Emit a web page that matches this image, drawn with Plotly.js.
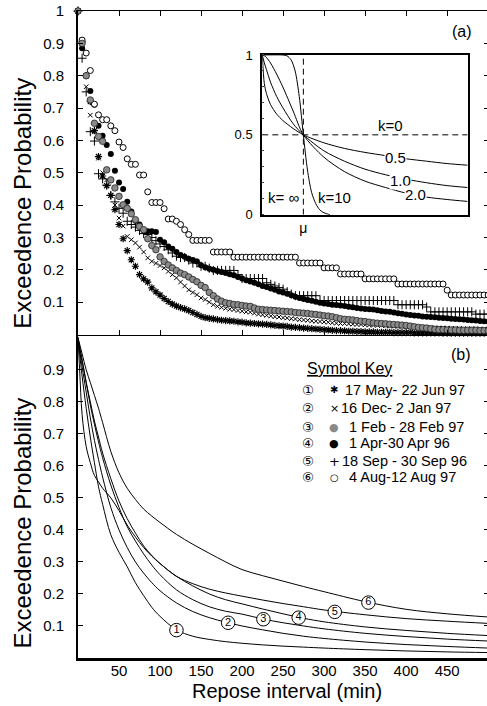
<!DOCTYPE html>
<html><head><meta charset="utf-8">
<script src="https://cdn.plot.ly/plotly-3.0.1.min.js"></script>
<style>html,body{margin:0;padding:0;overflow:hidden;background:#fff}#chart{width:489px;height:706px}</style>
</head><body><div id="chart"></div><script>
// ---------- DATA ----------
const repose = [0,5,10,15,20,25,30,35,40,45,50,55,60,65,70,75,80,85,90,95,100,105,110,115,120,125,130,135,140,145,150,155,160,165,170,175,180,185,190,195,200,205,210,215,220,225,230,235,240,245,250,255,260,265,270,275,280,285,290,295,300,305,310,315,320,325,330,335,340,345,350,355,360,365,370,375,380,385,390,395,400,405,410,415,420,425,430,435,440,445,450,455,460,465,470,475,480,485,490,495,500];

const may97 = [1.0,0.905,0.80,0.72,0.63,0.55,0.49,0.46,0.43,0.386,
 0.34,0.296,0.259,0.231,0.211,0.185,0.172,0.162,0.144,0.132,
 0.122,0.111,0.102,0.094,0.088,0.083,0.079,0.074,0.068,0.062,
 0.056,0.052,0.05,0.048,0.046,0.044,0.043,0.042,0.041,0.039,
 0.038,0.036,0.035,0.034,0.033,0.032,0.031,0.03,0.028,0.027,
 0.026,0.025,0.023,0.022,0.021,0.02,0.019,0.018,0.017,0.016,
 0.015,0.014,0.013,0.012,0.012,0.011,0.01,0.01,0.009,0.009,
 0.008,0.008,0.008,0.007,0.007,0.007,0.007,0.006,0.006,0.006,
 0.006,0.006,0.005,0.005,0.005,0.005,0.005,0.005,0.005,0.004,
 0.004,0.004,0.004,0.004,0.004,0.004,0.004,0.004,0.004,0.004,
 0.004];
const dec97 = [1.0,0.91,0.766,0.678,0.626,0.545,0.50,0.478,0.43,0.40,
 0.36,0.335,0.303,0.293,0.283,0.27,0.255,0.237,0.226,0.22,
 0.213,0.206,0.195,0.185,0.175,0.162,0.15,0.138,0.13,0.123,
 0.113,0.108,0.1,0.092,0.087,0.084,0.081,0.078,0.077,0.074,
 0.072,0.07,0.069,0.066,0.063,0.061,0.059,0.057,0.055,0.054,
 0.052,0.051,0.049,0.048,0.046,0.045,0.044,0.042,0.041,0.04,
 0.039,0.038,0.036,0.035,0.034,0.034,0.033,0.032,0.031,0.031,
 0.03,0.029,0.029,0.028,0.028,0.027,0.026,0.026,0.025,0.025,
 0.024,0.024,0.023,0.023,0.022,0.022,0.021,0.021,0.02,0.02,
 0.02,0.019,0.019,0.019,0.018,0.018,0.018,0.018,0.017,0.017,
 0.017];
const feb97 = [1.0,0.90,0.80,0.725,0.653,0.612,0.597,0.509,0.478,0.453,
 0.427,0.401,0.39,0.373,0.355,0.334,0.324,0.296,0.275,0.262,
 0.24,0.226,0.215,0.206,0.198,0.19,0.185,0.178,0.17,0.163,
 0.152,0.145,0.13,0.12,0.11,0.103,0.098,0.096,0.093,0.092,
 0.09,0.088,0.087,0.082,0.078,0.077,0.076,0.075,0.074,0.073,
 0.072,0.071,0.07,0.068,0.067,0.066,0.065,0.063,0.062,0.06,
 0.058,0.057,0.055,0.052,0.049,0.047,0.046,0.045,0.043,0.041,
 0.04,0.038,0.036,0.035,0.034,0.033,0.032,0.031,0.03,0.029,
 0.028,0.026,0.024,0.022,0.021,0.02,0.018,0.016,0.015,0.015,
 0.014,0.014,0.014,0.013,0.013,0.013,0.013,0.013,0.012,0.012,
 0.012];
const apr96 = [1.0,0.885,0.80,0.753,0.71,0.645,0.614,0.586,0.558,0.506,
 0.47,0.45,0.41,0.38,0.352,0.34,0.322,0.319,0.319,0.317,
 0.293,0.285,0.272,0.265,0.255,0.246,0.24,0.234,0.23,0.226,
 0.214,0.208,0.203,0.2,0.196,0.193,0.19,0.186,0.183,0.178,
 0.173,0.168,0.164,0.16,0.155,0.15,0.147,0.142,0.138,0.133,
 0.13,0.126,0.121,0.117,0.113,0.11,0.107,0.104,0.101,0.098,
 0.096,0.094,0.092,0.091,0.09,0.088,0.086,0.084,0.082,0.08,
 0.079,0.078,0.077,0.075,0.073,0.071,0.07,0.068,0.066,0.064,
 0.062,0.06,0.059,0.058,0.056,0.055,0.054,0.053,0.052,0.051,
 0.05,0.049,0.048,0.047,0.046,0.045,0.044,0.043,0.042,0.041,
 0.04];
const sep96 = [1.0,0.854,0.75,0.627,0.598,0.497,0.481,0.462,0.43,0.41,
 0.39,0.375,0.35,0.34,0.332,0.322,0.312,0.309,0.3,0.29,
 0.28,0.272,0.262,0.252,0.242,0.238,0.238,0.23,0.221,0.221,
 0.211,0.211,0.205,0.198,0.198,0.198,0.198,0.198,0.198,0.185,
 0.173,0.173,0.173,0.173,0.173,0.173,0.16,0.155,0.15,0.145,
 0.14,0.132,0.125,0.12,0.12,0.12,0.12,0.12,0.12,0.105,
 0.105,0.105,0.105,0.105,0.105,0.105,0.105,0.105,0.105,0.105,
 0.105,0.105,0.105,0.105,0.105,0.105,0.105,0.105,0.092,0.092,
 0.092,0.092,0.092,0.092,0.092,0.085,0.07,0.07,0.07,0.07,
 0.07,0.07,0.07,0.07,0.07,0.07,0.07,0.063,0.063,0.063,
 0.063];
const aug97 = [1.0,0.91,0.87,0.816,0.712,0.679,0.664,0.664,0.645,0.63,
 0.595,0.578,0.543,0.526,0.526,0.493,0.493,0.441,0.408,0.408,
 0.408,0.389,0.357,0.357,0.35,0.34,0.324,0.309,0.291,0.291,
 0.291,0.291,0.291,0.255,0.255,0.255,0.255,0.255,0.239,0.239,
 0.239,0.239,0.239,0.239,0.239,0.239,0.239,0.239,0.239,0.239,
 0.239,0.239,0.239,0.239,0.221,0.221,0.221,0.221,0.221,0.221,
 0.206,0.206,0.206,0.206,0.187,0.187,0.187,0.187,0.187,0.187,
 0.172,0.172,0.172,0.172,0.172,0.172,0.172,0.172,0.156,0.156,
 0.156,0.156,0.156,0.156,0.156,0.156,0.156,0.156,0.156,0.156,
 0.137,0.122,0.122,0.122,0.122,0.122,0.122,0.122,0.122,0.122,
 0.122];

// fitted curves, panel (b)
const fitX = [0,2,5,10,15,20,25,30,40,50,60,70,80,90,100,120,140,160,180,200,225,250,275,300,350,400,450,500];
const fit1 = [1,0.95,0.88,0.78,0.69,0.61,0.535,0.48,0.385,0.33,0.285,0.235,0.195,0.158,0.13,0.088,0.068,0.058,0.051,0.046,0.041,0.037,0.034,0.031,0.026,0.022,0.019,0.017];
const fit2 = [1,0.96,0.91,0.83,0.75,0.68,0.62,0.565,0.47,0.4,0.345,0.3,0.265,0.235,0.21,0.172,0.145,0.126,0.112,0.1,0.088,0.077,0.068,0.061,0.05,0.042,0.036,0.031];
const fit3 = [1,0.97,0.93,0.86,0.79,0.73,0.675,0.625,0.54,0.47,0.41,0.365,0.325,0.29,0.26,0.213,0.182,0.16,0.146,0.137,0.122,0.11,0.1,0.091,0.077,0.067,0.059,0.053];
const fit4 = [1,0.97,0.93,0.86,0.8,0.74,0.69,0.64,0.56,0.49,0.435,0.39,0.35,0.32,0.295,0.255,0.225,0.2,0.182,0.169,0.153,0.138,0.124,0.113,0.097,0.086,0.077,0.07];
const fit5 = [1,0.9,0.76,0.66,0.61,0.57,0.55,0.53,0.5,0.46,0.415,0.378,0.345,0.318,0.295,0.255,0.232,0.215,0.203,0.193,0.181,0.17,0.16,0.15,0.135,0.123,0.115,0.108];
const fit6 = [1,0.98,0.95,0.9,0.86,0.82,0.78,0.735,0.645,0.578,0.53,0.495,0.465,0.443,0.423,0.386,0.355,0.327,0.3,0.276,0.257,0.24,0.223,0.207,0.176,0.152,0.138,0.128];
const fitLabelX = [120,183,226,269,313,354];
const fitLabelY = [0.087,0.11,0.121,0.126,0.144,0.173];
const fitLabelText = ['1','2','3','4','5','6'];

// inset (x in units of mu)
const insetX = [0,0.05,0.1,0.2,0.35,0.5,0.75,1,1.5,2,2.5,3,3.5,4,4.5,5];
const kHalf = [1,0.82,0.76,0.69,0.63,0.59,0.54,0.5,0.45,0.415,0.39,0.37,0.35,0.335,0.32,0.31];
const kOne  = [1,0.95,0.91,0.83,0.74,0.67,0.57,0.5,0.40,0.335,0.285,0.25,0.222,0.2,0.182,0.17];
const kTwo  = [1,0.995,0.985,0.95,0.88,0.8,0.65,0.5,0.36,0.27,0.21,0.17,0.135,0.11,0.095,0.083];
const kTenX = [0,0.5,0.6,0.7,0.8,0.9,1.0,1.1,1.2,1.3,1.4,1.5,1.65];
const kTen  = [1,1,0.995,0.97,0.9,0.74,0.5,0.28,0.14,0.07,0.03,0.012,0];
const kZeroX = [0,5], kZeroY = [0.5,0.5];
const kInfX = [1,1], kInfY = [0,1];

const xTicks = [50,100,150,200,250,300,350,400,450];
const yTicksA = [0.1,0.2,0.3,0.4,0.5,0.6,0.7,0.8,0.9,1];
const yTicksAText = ['0.1','0.2','0.3','0.4','0.5','0.6','0.7','0.8','0.9','1'];
const yTicksB = [0.1,0.2,0.3,0.4,0.5,0.6,0.7,0.8,0.9];
const keyNames = ['17 May- 22 Jun 97','16 Dec- 2 Jan 97','1 Feb - 28 Feb 97','1 Apr-30 Apr 96','18 Sep - 30 Sep 96','4 Aug-12 Aug 97'];

// ---------- PLOT ----------
const FONT = 'Liberation Sans, Arial, Helvetica, sans-serif';
const traces = [];
function pts(y, marker){
  traces.push({x: repose, y: y, xaxis:'x2', yaxis:'y2', type:'scatter', mode:'markers', cliponaxis:false, marker: marker, hoverinfo:'skip'});
}
pts(may97, {symbol:'asterisk-open', size:6, color:'black', line:{color:'black', width:1.2}});
pts(dec97, {symbol:'x-thin-open', size:4.5, color:'black', line:{color:'black', width:1}});
pts(apr96, {symbol:'circle', size:6, color:'black', line:{width:0}});
pts(sep96, {symbol:'cross-thin-open', size:6.5, color:'black', line:{color:'black', width:1}});
pts(aug97, {symbol:'circle', size:6, color:'white', line:{color:'black', width:1}});
pts(feb97, {symbol:'circle', size:6.5, color:'#8a8a8a', line:{color:'#222', width:0.8}});

[fit1,fit2,fit3,fit4,fit5,fit6].forEach(f => traces.push({x: fitX, y: f, xaxis:'x', yaxis:'y', type:'scatter', mode:'lines', line:{color:'black', width:1, shape:'spline', smoothing:1}, hoverinfo:'skip'}));
traces.push({x: fitLabelX, y: fitLabelY, xaxis:'x', yaxis:'y', type:'scatter', mode:'markers+text', text: fitLabelText, textposition:'middle center', textfont:{family:FONT, size:11, color:'black'}, marker:{symbol:'circle', size:13.5, color:'white', line:{color:'black', width:1}}, cliponaxis:false, hoverinfo:'skip'});

[kHalf,kOne,kTwo].forEach(k => traces.push({x: insetX, y: k, xaxis:'x4', yaxis:'y4', type:'scatter', mode:'lines', line:{color:'black', width:1, shape:'spline', smoothing:0.8}, hoverinfo:'skip'}));
traces.push({x: kTenX, y: kTen, xaxis:'x4', yaxis:'y4', type:'scatter', mode:'lines', line:{color:'black', width:1, shape:'spline', smoothing:0.8}, hoverinfo:'skip'});
traces.push({x: kZeroX, y: kZeroY, xaxis:'x4', yaxis:'y4', type:'scatter', mode:'lines', line:{color:'black', width:1, dash:'6px,4px'}, hoverinfo:'skip'});
traces.push({x: kInfX, y: kInfY, xaxis:'x4', yaxis:'y4', type:'scatter', mode:'lines', line:{color:'black', width:1, dash:'6px,4px'}, hoverinfo:'skip'});

const xr = [0, 501];
const base = {showgrid:false, zeroline:false, linecolor:'black', tickcolor:'black', color:'black'};
const ann = [];
function A(o){ ann.push(Object.assign({showarrow:false, font:{family:FONT, size:15, color:'black'}}, o)); }

A({text:'Exceedence Probability', textangle:-90, xref:'paper', yref:'paper', x:-0.135, y:0.703, xanchor:'center', yanchor:'middle', font:{family:FONT, size:24, color:'black'}});
A({text:'Exceedence Probability', textangle:-90, xref:'paper', yref:'paper', x:-0.135, y:0.2087, xanchor:'center', yanchor:'middle', font:{family:FONT, size:24, color:'black'}});
A({text:'Repose interval (min)', xref:'paper', yref:'paper', x:0.5085, y:-0.0505, xanchor:'center', yanchor:'middle', font:{family:FONT, size:20, color:'black'}});
A({text:'(a)', xref:'x2', yref:'y2', x:468, y:0.936, font:{family:FONT, size:16, color:'black'}});
A({text:'(b)', xref:'x', yref:'y', x:467, y:0.949, font:{family:FONT, size:16, color:'black'}});

// symbol key
A({text:'<u>Symbol Key</u>', xref:'x', yref:'y', x:330.5, y:0.905, font:{family:FONT, size:16, color:'black'}});
const rowY = [0.8375,0.7803,0.72,0.671,0.6138,0.5638];
const circ = ['①','②','③','④','⑤','⑥'];
const sym = ['✱','×','●','●','+','○'];
const symColor = ['black','black','#8a8a8a','black','black','black'];
const symSize = [10,11,11,11,13,10];
const textX = [323.5,318.7,327.7,327.7,319.5,327.7];
for (let i=0;i<6;i++){
  A({text:circ[i], xref:'x', yref:'y', x:280.9, y:rowY[i], xanchor:'center', font:{family:'DejaVu Sans, Noto Sans CJK SC', size:13.5, color:'black'}});
  A({text:sym[i], xref:'x', yref:'y', x:312.2, y:rowY[i], xanchor:'center', font:{family:'DejaVu Sans, Liberation Sans', size:symSize[i], color:symColor[i]}});
  A({text:keyNames[i], xref:'x', yref:'y', x:textX[i], y:rowY[i], xanchor:'left', font:{family:FONT, size:14.5, color:'black'}});
}
// inset labels
A({text:'k=0', xref:'x4', yref:'y4', x:3.11, y:0.56, font:{family:FONT, size:15, color:'black'}});
A({text:'0.5', xref:'x4', yref:'y4', x:3.24, y:0.361, bgcolor:'white', borderpad:0, font:{family:FONT, size:15, color:'black'}});
A({text:'1.0', xref:'x4', yref:'y4', x:3.36, y:0.216, bgcolor:'white', borderpad:0, font:{family:FONT, size:15, color:'black'}});
A({text:'2.0', xref:'x4', yref:'y4', x:3.74, y:0.124, bgcolor:'white', borderpad:0, font:{family:FONT, size:15, color:'black'}});
A({text:'k= ∞', xref:'x4', yref:'y4', x:0.51, y:0.11, font:{family:FONT, size:15, color:'black'}});
A({text:'k=10', xref:'x4', yref:'y4', x:1.77, y:0.11, font:{family:FONT, size:15, color:'black'}});

const layout = {
  width:489, height:706, margin:{l:78, r:0, t:11, b:48},
  paper_bgcolor:'white', plot_bgcolor:'white', showlegend:false,
  font:{family:FONT, size:15, color:'black'},
  xaxis: Object.assign({}, base, {domain:[0,1], anchor:'y', range:xr, tickvals:xTicks, ticks:'', showline:true, linewidth:2.5, ticklabelstandoff:-3, tickfont:{family:FONT, size:15}}),
  xaxis3: Object.assign({}, base, {overlaying:'x', side:'top', anchor:'y', range:xr, tickvals:xTicks, showticklabels:false, ticks:'inside', ticklen:5, showline:false}),
  yaxis: Object.assign({}, base, {domain:[0,0.5], anchor:'x', range:[0,1.01], tickvals:yTicksB, ticks:'inside', ticklen:5, mirror:'ticks', showline:true, linewidth:2, ticklabelstandoff:9, tickfont:{family:FONT, size:15}}),
  xaxis2: Object.assign({}, base, {domain:[0,1], anchor:'y2', range:xr, tickvals:xTicks, showticklabels:false, ticks:'inside', ticklen:5, mirror:'ticks', showline:true, linewidth:1.3}),
  yaxis2: Object.assign({}, base, {domain:[0.5,1], anchor:'x2', range:[0,1], tickvals:yTicksA, ticktext:yTicksAText, ticks:'inside', ticklen:5, mirror:'ticks', showline:true, linewidth:2, ticklabelstandoff:9, tickfont:{family:FONT, size:15}}),
  xaxis4: Object.assign({}, base, {domain:[0.4484,0.948], anchor:'y4', range:[0,5], tickvals:[1], ticktext:['μ'], ticks:'', showline:true, mirror:true, linewidth:2, tickfont:{family:FONT, size:14}}),
  yaxis4: Object.assign({}, base, {domain:[0.6852,0.932], anchor:'x4', range:[0,1], tickvals:[0,0.5,1], ticktext:['0','0.5','1'], ticks:'', showline:true, mirror:true, linewidth:2, ticklabelstandoff:5, tickfont:{family:FONT, size:13}, minor:{dtick:0.1, ticks:'inside', ticklen:2, tickcolor:'#444'}}),
  annotations: ann
};
Plotly.newPlot('chart', traces, layout, {staticPlot:true, displayModeBar:false});
</script></body></html>
